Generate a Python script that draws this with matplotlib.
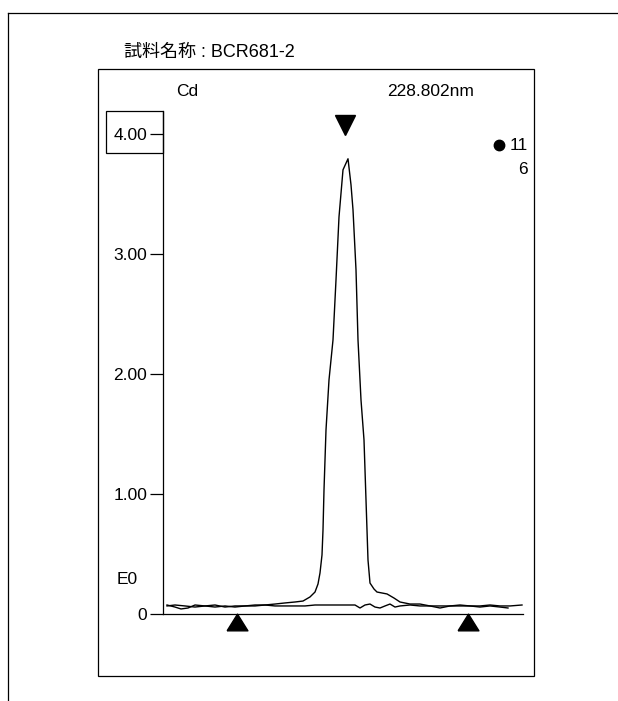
import matplotlib
matplotlib.use('Agg')
import matplotlib.pyplot as plt
from matplotlib.patches import Rectangle
from matplotlib.lines import Line2D

plt.rcParams['font.family'] = ['Liberation Sans', 'Noto Sans CJK JP', 'DejaVu Sans']

W, H = 618, 701
FS = 12.5

# --- data (time in arbitrary units, signal in E0 units) ---
t_sample = [4, 12, 18, 25, 32, 42, 52, 62, 72, 82, 92, 102, 112, 122, 132,
            140, 147, 152, 155, 157, 159, 160, 161, 163, 166, 170, 173, 176,
            180, 185, 188, 190, 193, 195, 198, 201, 203, 205, 207, 211, 214,
            219, 224, 231, 237, 247, 257, 267, 277, 287, 297, 307, 317, 327,
            337, 345]
y_sample = [0.075, 0.058, 0.042, 0.050, 0.075, 0.067, 0.058, 0.067, 0.058,
            0.067, 0.067, 0.075, 0.083, 0.092, 0.100, 0.108, 0.142, 0.183,
            0.250, 0.342, 0.492, 0.700, 1.033, 1.533, 1.950, 2.283, 2.783,
            3.308, 3.700, 3.792, 3.575, 3.367, 2.867, 2.283, 1.783, 1.450,
            0.950, 0.450, 0.258, 0.208, 0.183, 0.175, 0.167, 0.133, 0.100,
            0.083, 0.083, 0.067, 0.050, 0.067, 0.067, 0.067, 0.058, 0.067,
            0.058, 0.050]

t_blank = [4, 12, 22, 32, 42, 52, 62, 72, 82, 92, 102, 112, 122, 132, 142,
           152, 162, 172, 182, 192, 197, 202, 207, 212, 217, 222, 227, 232,
           237, 247, 257, 267, 277, 287, 297, 307, 317, 327, 337, 347, 359]
y_blank = [0.067, 0.075, 0.067, 0.058, 0.067, 0.075, 0.058, 0.067, 0.067,
           0.075, 0.075, 0.067, 0.067, 0.067, 0.067, 0.075, 0.075, 0.075,
           0.075, 0.075, 0.050, 0.075, 0.083, 0.058, 0.050, 0.067, 0.083,
           0.058, 0.067, 0.075, 0.067, 0.067, 0.067, 0.067, 0.075, 0.067,
           0.067, 0.075, 0.067, 0.067, 0.075]

y_ticks = [0, 1, 2, 3, 4]
y_tick_labels = ['0', '1.00', '2.00', '3.00', '4.00']

peak_mark_t = 182          # ▼ above the peak
window_marks_t = [74, 305]  # ▲ integration window

def fx(x):
    return x / W

def fy(y):
    return 1 - y / H

fig = plt.figure(figsize=(W / 100, H / 100), dpi=100)

# outer frame (top and left edges)
fig.add_artist(Line2D([fx(8), fx(618)], [fy(13), fy(13)], color='black', lw=0.9))
fig.add_artist(Line2D([fx(8), fx(8)], [fy(13), fy(701)], color='black', lw=0.9))

# inner box
fig.add_artist(Rectangle((fx(98), fy(676)), fx(534) - fx(98), fy(69) - fy(676),
                         fill=False, edgecolor='black', lw=0.9))

fig.text(fx(124), fy(52), '試料名称 : BCR681-2', ha='left', va='center', fontsize=13)

ax = fig.add_axes([fx(163), fy(614), fx(523) - fx(163), fy(111) - fy(614)])
ax.set_xlim(0, 360)
ax.set_ylim(0, 4.19)
ax.patch.set_alpha(0)

ax.plot(t_blank, y_blank, color='black', lw=1.0)
ax.plot(t_sample, y_sample, color='black', lw=1.0)

for s in ['top', 'right']:
    ax.spines[s].set_visible(False)
for s in ['left', 'bottom']:
    ax.spines[s].set_linewidth(0.9)

ax.set_xticks([])
ax.set_yticks(y_ticks)
ax.set_yticklabels(y_tick_labels)
ax.tick_params(axis='y', length=9.4, width=0.9, pad=2, labelsize=FS)

# markers: peak marker and integration window
ax.plot([peak_mark_t], [4.075], marker='v', markersize=15, color='black',
        clip_on=False, linestyle='none')
up_tri = [(-1, -0.8), (1, -0.8), (0, 0.8), (-1, -0.8)]
ax.plot(window_marks_t, [-0.065] * len(window_marks_t), marker=up_tri,
        markersize=15, color='black', clip_on=False, linestyle='none')

# 4.00 label box
fig.add_artist(Rectangle((fx(106), fy(153)), fx(163) - fx(106), fy(111) - fy(153),
                         fill=False, edgecolor='black', lw=0.9))

fig.text(fx(176), fy(91), 'Cd', ha='left', va='center', fontsize=FS)
fig.text(fx(387), fy(91), '228.802nm', ha='left', va='center', fontsize=FS)
fig.text(fx(117), fy(580), 'E0', ha='left', va='center', fontsize=FS)

# legend marker at upper right
fig.add_artist(Line2D([fx(499)], [fy(145)], marker='o', markersize=7.5,
                      color='black', linestyle='none'))
fig.text(fx(528), fy(145), '11', ha='right', va='center', fontsize=FS)
fig.text(fx(528), fy(169), '6', ha='right', va='center', fontsize=FS)

fig.savefig('out.png', dpi=100)
